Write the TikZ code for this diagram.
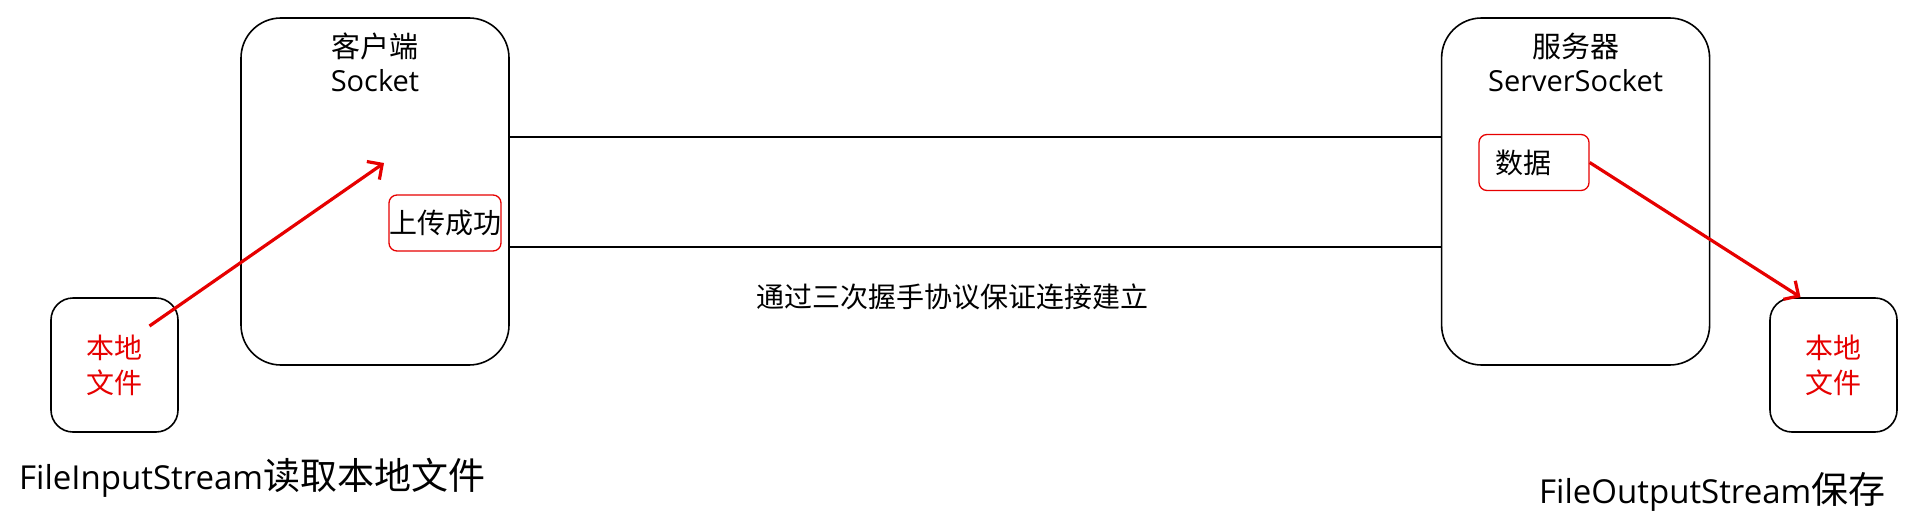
\documentclass[tikz,border=0pt]{standalone}
\usepackage{fontspec}
\setmainfont{Open Sans}
\newfontfamily\cjk{Noto Sans CJK SC}
\usetikzlibrary{positioning, arrows.meta}
\definecolor{filered}{RGB}{230,0,0}

\begin{document}
\begin{tikzpicture}[
    x=1pt, y=-1pt,
    node distance=931pt,
    hostbox/.style={draw, line width=1.6pt, rounded corners=40pt, minimum width=268pt, minimum height=347pt},
    hosttitle/.style={align=center, font=\fontsize{29}{34}\selectfont},
    filebox/.style={draw, line width=1.6pt, rounded corners=22pt, minimum width=127pt, minimum height=134pt,
        align=center, text=filered, font=\cjk\fontsize{28}{35}\selectfont},
    tagbox/.style={draw=filered, line width=1.3pt, rounded corners=8pt, minimum height=56pt, inner sep=0pt,
        font=\cjk\fontsize{28}{34}\selectfont},
    streamlabel/.style={inner sep=0pt, anchor=base west, font=\fontsize{33}{40}\selectfont},
    redarrow/.style={draw=filered, line width=3.2pt, -{Straight Barb[length=11pt,width=22pt]}}
]
\useasboundingbox (0,0) rectangle (1908,522);

\node[hostbox] (client) at (375,191.5) {};
\node[hostbox] (server) [right=of client] {};
\node[hosttitle] (clienttitle) at ([yshift=-45pt]client.north) {{\cjk 客户端}\\Socket};
\node[hosttitle] (servertitle) at ([yshift=-45pt]server.north) {{\cjk 服务器}\\ServerSocket};

\node[filebox] (localin) at (114.5,365) {本地\\文件};
\node[filebox] (localout) at (1833.5,365) {本地\\文件};

\node[tagbox, minimum width=110pt] (upload) at (445,223) {上传成功};
\node[tagbox, text width=78pt, align=left, inner xsep=16pt] (data) at (1534,162.5) {数据};

\node[font=\cjk\fontsize{28}{34}\selectfont] (handshake) at (952,297) {通过三次握手协议保证连接建立};

\node[streamlabel] (readlabel) at (19,489) {FileInputStream{\cjk\fontsize{37}{40}\selectfont 读取本地文件}};
\node[streamlabel] (savelabel) at (1539,503) {FileOutputStream{\cjk\fontsize{37}{40}\selectfont 保存}};

% connection between the two hosts
\draw[line width=1.5pt] ([yshift=54.5pt]client.east) -- ([yshift=54.5pt]server.west);
\draw[line width=1.5pt] ([yshift=-55.5pt]client.east) -- ([yshift=-55.5pt]server.west);

% file flow
\coordinate (sendtail) at ([xshift=35pt,yshift=39pt]localin.center);
\coordinate (sendtip) at ([xshift=9pt,yshift=28.5pt]client.center);
\draw[redarrow] (sendtail) -- (sendtip);
\draw[redarrow] (data.east) -- ([xshift=-33pt]localout.north);

\end{tikzpicture}
\end{document}
